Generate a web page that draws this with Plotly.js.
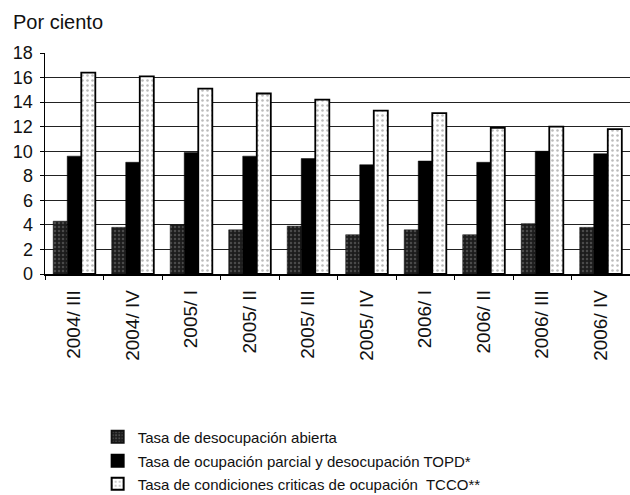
<!DOCTYPE html>
<html>
<head>
<meta charset="utf-8">
<script src="https://cdn.plot.ly/plotly-3.0.1.min.js"></script>
<style>html,body{margin:0;padding:0;background:#fff;}#chart{width:630px;height:495px;}</style>
</head>
<body>
<div id="chart"></div>
<script>
const categories = ["2004/ III","2004/ IV","2005/ I","2005/ II","2005/ III","2005/ IV","2006/ I","2006/ II","2006/ III","2006/ IV"];
const desocupacionAbierta = [4.3, 3.8, 4.0, 3.6, 3.9, 3.2, 3.6, 3.2, 4.1, 3.8];
const topd = [9.6, 9.1, 9.9, 9.6, 9.4, 8.9, 9.2, 9.1, 10.0, 9.8];
const tcco = [16.4, 16.1, 15.1, 14.7, 14.2, 13.3, 13.1, 11.9, 12.0, 11.8];
const seriesNames = [
  "Tasa de desocupación abierta",
  "Tasa de ocupación parcial y desocupación TOPD*",
  "Tasa de condiciones criticas de ocupación  TCCO**"
];
const yTicks = [0,2,4,6,8,10,12,14,16,18];

const traces = [
  {type:"bar", name:seriesNames[0], x:categories, y:desocupacionAbierta, legend:"legend",
   marker:{color:"#222", line:{color:"#111", width:0.5},
           pattern:{shape:".", fgcolor:"#4a4a4a", bgcolor:"#1c1c1c", size:4, solidity:0.3}}},
  {type:"bar", name:seriesNames[1], x:categories, y:topd, legend:"legend2",
   marker:{color:"#000", line:{color:"#000", width:0.5}}},
  {type:"bar", name:seriesNames[2], x:categories, y:tcco, legend:"legend3",
   marker:{color:"#fff", line:{color:"#000", width:1.8},
           pattern:{shape:".", fgcolor:"#bbb", bgcolor:"#fff", size:5, solidity:0.2}}}
];

const legendBase = {x:0.09, xanchor:"left", yanchor:"middle", font:{size:15, color:"#111"},
                    bgcolor:"rgba(0,0,0,0)", itemsizing:"constant"};
function rowY(px){ return (274 - px) / 221; }

const layout = {
  width:630, height:495,
  paper_bgcolor:"#fff", plot_bgcolor:"#fff",
  margin:{l:45, r:0, t:53, b:221, autoexpand:false},
  font:{family:"Liberation Sans, Arial, sans-serif", color:"#111"},
  barmode:"group", bargap:0.28, bargroupgap:0,
  showlegend:true,
  legend:Object.assign({}, legendBase, {y:rowY(437)}),
  legend2:Object.assign({}, legendBase, {y:rowY(461)}),
  legend3:Object.assign({}, legendBase, {y:rowY(484)}),
  annotations:[{text:"Por ciento", xref:"paper", yref:"paper", x:-0.058, y:1.14,
                xanchor:"left", yanchor:"middle", showarrow:false,
                font:{size:20, color:"#111"}}],
  xaxis:{type:"category", tickangle:-90, tickfont:{size:19, color:"#111"}, automargin:false,
         showline:true, linecolor:"#000", linewidth:1.5, ticks:"outside", ticklabelstandoff:7,
         tickson:"boundaries", ticklen:4, tickcolor:"#000", showgrid:false, fixedrange:true},
  yaxis:{range:[0,18], tickvals:yTicks, ticktext:yTicks.map(String), automargin:false,
         tickfont:{size:18, color:"#111"}, showline:true, linecolor:"#000", linewidth:1.5,
         ticks:"outside", ticklen:4, tickcolor:"#000", ticklabelstandoff:3,
         showgrid:true, gridcolor:"#222", gridwidth:1.2, zeroline:false, fixedrange:true}
};

Plotly.newPlot("chart", traces, layout, {displayModeBar:false, staticPlot:true});
</script>
</body>
</html>
